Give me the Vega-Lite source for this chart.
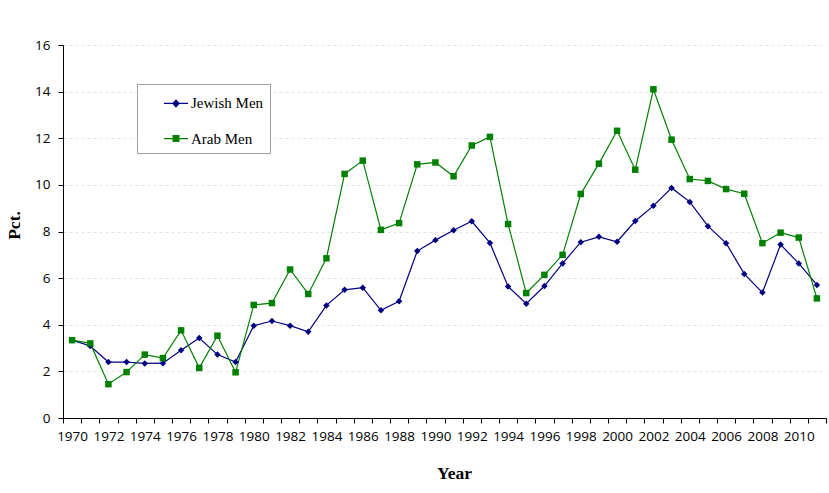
{
  "$schema": "https://vega.github.io/schema/vega-lite/v6.json",
  "width": 763,
  "height": 373,
  "autosize": "none",
  "padding": {"left": 63, "top": 45, "right": 3, "bottom": 75},
  "background": "white",
  "config": {"view": {"stroke": null}, "font": "Open Sans"},
  "data": {"values": [
    {"year": 1970, "series": "Jewish Men", "value": 3.34},
    {"year": 1971, "series": "Jewish Men", "value": 3.09},
    {"year": 1972, "series": "Jewish Men", "value": 2.4},
    {"year": 1973, "series": "Jewish Men", "value": 2.4},
    {"year": 1974, "series": "Jewish Men", "value": 2.34},
    {"year": 1975, "series": "Jewish Men", "value": 2.35},
    {"year": 1976, "series": "Jewish Men", "value": 2.91},
    {"year": 1977, "series": "Jewish Men", "value": 3.43},
    {"year": 1978, "series": "Jewish Men", "value": 2.72},
    {"year": 1979, "series": "Jewish Men", "value": 2.4},
    {"year": 1980, "series": "Jewish Men", "value": 3.96},
    {"year": 1981, "series": "Jewish Men", "value": 4.16},
    {"year": 1982, "series": "Jewish Men", "value": 3.96},
    {"year": 1983, "series": "Jewish Men", "value": 3.7},
    {"year": 1984, "series": "Jewish Men", "value": 4.83},
    {"year": 1985, "series": "Jewish Men", "value": 5.5},
    {"year": 1986, "series": "Jewish Men", "value": 5.59},
    {"year": 1987, "series": "Jewish Men", "value": 4.62},
    {"year": 1988, "series": "Jewish Men", "value": 5.01},
    {"year": 1989, "series": "Jewish Men", "value": 7.16},
    {"year": 1990, "series": "Jewish Men", "value": 7.63},
    {"year": 1991, "series": "Jewish Men", "value": 8.05},
    {"year": 1992, "series": "Jewish Men", "value": 8.44},
    {"year": 1993, "series": "Jewish Men", "value": 7.51},
    {"year": 1994, "series": "Jewish Men", "value": 5.64},
    {"year": 1995, "series": "Jewish Men", "value": 4.9},
    {"year": 1996, "series": "Jewish Men", "value": 5.66},
    {"year": 1997, "series": "Jewish Men", "value": 6.63},
    {"year": 1998, "series": "Jewish Men", "value": 7.54},
    {"year": 1999, "series": "Jewish Men", "value": 7.77},
    {"year": 2000, "series": "Jewish Men", "value": 7.56},
    {"year": 2001, "series": "Jewish Men", "value": 8.45},
    {"year": 2002, "series": "Jewish Men", "value": 9.1},
    {"year": 2003, "series": "Jewish Men", "value": 9.87},
    {"year": 2004, "series": "Jewish Men", "value": 9.27},
    {"year": 2005, "series": "Jewish Men", "value": 8.23},
    {"year": 2006, "series": "Jewish Men", "value": 7.5},
    {"year": 2007, "series": "Jewish Men", "value": 6.18},
    {"year": 2008, "series": "Jewish Men", "value": 5.38},
    {"year": 2009, "series": "Jewish Men", "value": 7.44},
    {"year": 2010, "series": "Jewish Men", "value": 6.63},
    {"year": 2011, "series": "Jewish Men", "value": 5.71},
    {"year": 1970, "series": "Arab Men", "value": 3.34},
    {"year": 1971, "series": "Arab Men", "value": 3.2},
    {"year": 1972, "series": "Arab Men", "value": 1.45},
    {"year": 1973, "series": "Arab Men", "value": 1.97},
    {"year": 1974, "series": "Arab Men", "value": 2.72},
    {"year": 1975, "series": "Arab Men", "value": 2.57},
    {"year": 1976, "series": "Arab Men", "value": 3.76},
    {"year": 1977, "series": "Arab Men", "value": 2.15},
    {"year": 1978, "series": "Arab Men", "value": 3.53},
    {"year": 1979, "series": "Arab Men", "value": 1.96},
    {"year": 1980, "series": "Arab Men", "value": 4.85},
    {"year": 1981, "series": "Arab Men", "value": 4.93},
    {"year": 1982, "series": "Arab Men", "value": 6.37},
    {"year": 1983, "series": "Arab Men", "value": 5.32},
    {"year": 1984, "series": "Arab Men", "value": 6.85},
    {"year": 1985, "series": "Arab Men", "value": 10.47},
    {"year": 1986, "series": "Arab Men", "value": 11.04},
    {"year": 1987, "series": "Arab Men", "value": 8.07},
    {"year": 1988, "series": "Arab Men", "value": 8.36},
    {"year": 1989, "series": "Arab Men", "value": 10.88},
    {"year": 1990, "series": "Arab Men", "value": 10.96},
    {"year": 1991, "series": "Arab Men", "value": 10.37},
    {"year": 1992, "series": "Arab Men", "value": 11.69},
    {"year": 1993, "series": "Arab Men", "value": 12.06},
    {"year": 1994, "series": "Arab Men", "value": 8.32},
    {"year": 1995, "series": "Arab Men", "value": 5.36},
    {"year": 1996, "series": "Arab Men", "value": 6.14},
    {"year": 1997, "series": "Arab Men", "value": 7.0},
    {"year": 1998, "series": "Arab Men", "value": 9.61},
    {"year": 1999, "series": "Arab Men", "value": 10.91},
    {"year": 2000, "series": "Arab Men", "value": 12.32},
    {"year": 2001, "series": "Arab Men", "value": 10.65},
    {"year": 2002, "series": "Arab Men", "value": 14.1},
    {"year": 2003, "series": "Arab Men", "value": 11.94},
    {"year": 2004, "series": "Arab Men", "value": 10.25},
    {"year": 2005, "series": "Arab Men", "value": 10.17},
    {"year": 2006, "series": "Arab Men", "value": 9.82},
    {"year": 2007, "series": "Arab Men", "value": 9.62},
    {"year": 2008, "series": "Arab Men", "value": 7.5},
    {"year": 2009, "series": "Arab Men", "value": 7.95},
    {"year": 2010, "series": "Arab Men", "value": 7.74},
    {"year": 2011, "series": "Arab Men", "value": 5.13}
  ]},
  "encoding": {
    "x": {
      "field": "year", "type": "ordinal",
      "scale": {"type": "band", "paddingInner": 0, "paddingOuter": 0},
      "axis": {
        "title": "Year", "titleFont": "Liberation Serif", "titleFontSize": 17.5, "titleFontWeight": "bold",
        "titleColor": "black", "titleX": 391, "titlePadding": 22,
        "labelAngle": 0, "labelFontSize": 13.5, "labelColor": "black", "labelPadding": 6,
        "labelExpr": "datum.value % 2 == 0 ? datum.label : ''", "labelOverlap": false,
        "tickBand": "extent", "tickColor": "black", "tickSize": 5, "domainColor": "black", "grid": false
      }
    },
    "y": {
      "field": "value", "type": "quantitative",
      "scale": {"domain": [0, 16], "nice": false},
      "axis": {
        "title": "Pct.", "titleFont": "Liberation Serif", "titleFontSize": 17.5, "titleFontWeight": "bold",
        "titleColor": "black", "titlePadding": 11, "titleY": 180,
        "values": [0, 2, 4, 6, 8, 10, 12, 14, 16],
        "labelFontSize": 13.5, "labelColor": "black", "labelPadding": 8,
        "tickSize": 5, "tickColor": "black", "domainColor": "black",
        "gridColor": "#e4e4e4", "gridDash": [3, 3]
      }
    },
    "color": {
      "field": "series", "type": "nominal",
      "scale": {"domain": ["Jewish Men", "Arab Men"], "range": ["#000080", "#008000"]},
      "legend": {
        "title": null, "orient": "none", "legendX": 74, "legendY": 39, "direction": "vertical",
        "padding": 6.4, "rowPadding": 14.2, "symbolSize": 576, "symbolOffset": 19.6, "symbolStrokeWidth": 1.2,
        "symbolType": "stroke",
        "labelOffset": 2, "labelFont": "Liberation Serif", "labelFontSize": 15, "labelColor": "black",
        "fillColor": "white", "strokeColor": "#a0a0a0",
        "encode": {
          "legend": {"update": {"width": {"value": 153}}},
          "symbols": {"update": {
            "shape": {"signal": "datum.value == 'Jewish Men' ? 'M-1,0H1M0,-0.28L0.25,0L0,0.28L-0.25,0Z' : 'M-1,0H1M-0.24,-0.24H0.24V0.24H-0.24Z'"},
            "fill": {"signal": "scale('color', datum.value)"},
            "stroke": {"signal": "scale('color', datum.value)"}
          }}
        }
      }
    }
  },
  "layer": [
    {"mark": {"type": "line", "strokeWidth": 1.2}},
    {
      "transform": [{"filter": "datum.series == 'Jewish Men'"}],
      "mark": {"type": "point", "shape": "diamond", "filled": true, "size": 42, "opacity": 1}
    },
    {
      "transform": [{"filter": "datum.series == 'Arab Men'"}],
      "mark": {"type": "point", "shape": "square", "filled": true, "size": 42, "opacity": 1}
    }
  ]
}
